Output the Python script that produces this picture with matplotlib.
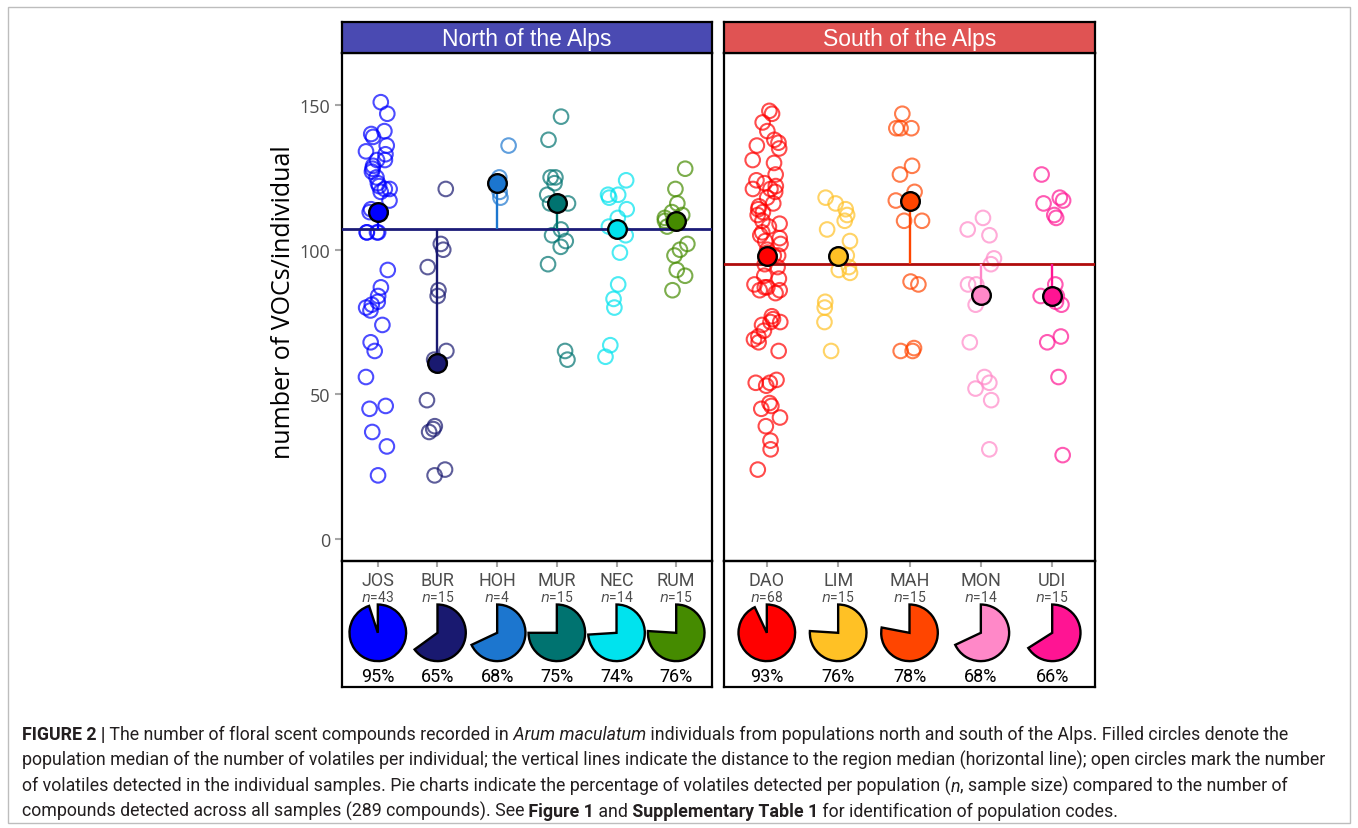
import numpy as np
import matplotlib
matplotlib.use("Agg")
import matplotlib.pyplot as plt
from matplotlib.patches import Rectangle

# populations and sample sizes
north_pops = ["JOS", "BUR", "HOH", "MUR", "NEC", "RUM"]
south_pops = ["DAO", "LIM", "MAH", "MON", "UDI"]
north_n = [43, 15, 4, 15, 14, 15]
south_n = [68, 15, 15, 14, 15]
north_pct = [95, 65, 68, 75, 74, 76]
south_pct = [93, 76, 78, 68, 66]

# population medians and region medians
north_medians = [113, 61, 123, 116, 107, 110]
south_medians = [98, 98, 117, 84.5, 84]
north_region_median = 107
south_region_median = 95

# number of VOCs per individual
jos = [151, 147, 141, 140, 139, 136, 134, 133, 131, 131, 129, 128, 127, 125, 123,
       122, 121, 121, 120, 117, 114, 113, 113, 106, 106, 106, 106, 93, 87, 84,
       82, 81, 80, 79, 74, 68, 65, 56, 46, 45, 37, 32, 22]
bur = [121, 102, 100, 94, 86, 84, 65, 62, 61, 48, 39, 38, 37, 24, 22]
hoh = [136, 125, 120, 118]
mur = [146, 138, 125, 125, 123, 119, 116, 116, 107, 105, 103, 101, 95, 65, 62]
nec = [124, 119, 119, 118, 114, 111, 108, 105, 99, 88, 83, 80, 67, 63]
rum = [128, 121, 116, 113, 112, 111, 110, 110, 108, 102, 100, 98, 93, 91, 86]
dao = [148, 147, 144, 141, 138, 137, 136, 135, 131, 130, 126, 124, 123, 122, 121,
       121, 120, 118, 116, 115, 114, 113, 112, 110, 109, 108, 106, 105, 104, 103,
       102, 100, 99, 98, 98, 97, 95, 94, 91, 90, 88, 87, 87, 86, 86, 85, 77, 76,
       75, 75, 74, 72, 70, 69, 68, 65, 55, 54, 54, 53, 47, 46, 45, 42, 39, 34,
       31, 24]
lim = [118, 116, 114, 112, 110, 107, 103, 98, 94, 93, 92, 82, 80, 75, 65]
mah = [147, 142, 142, 142, 129, 126, 120, 117, 110, 110, 89, 88, 66, 65, 65]
mon = [111, 107, 105, 97, 95, 88, 88, 81, 68, 56, 54, 52, 48, 31]
udi = [126, 118, 117, 116, 112, 111, 88, 84, 84, 82, 81, 70, 68, 56, 29]

north_vals = [jos, bur, hoh, mur, nec, rum]
south_vals = [dao, lim, mah, mon, udi]

north_colors = ["#0000FF", "#191970", "#1C76CF", "#007370", "#00E3EE", "#458B00"]
south_colors = ["#FF0000", "#FFC125", "#FF4500", "#FF88C8", "#FF1493"]

W, H = 1358, 829
fig = plt.figure(figsize=(W / 100, H / 100), dpi=100)


def px_rect(x0, y0, x1, y1):
    return [x0 / W, 1 - y1 / H, (x1 - x0) / W, (y1 - y0) / H]


narrow = ["Liberation Sans Narrow", "Roboto"]
tick_grey = "#A6A6A6"
label_grey = "#4D4D4D"
rng = np.random.default_rng(7)


def draw_region(x0, x1, pops, ns, pcts, vals, medians, region_med, colors,
                line_color, strip_color, title, show_y):
    npop = len(pops)
    ax = fig.add_axes(px_rect(x0, 54, x1, 562))
    for i, (v, c) in enumerate(zip(vals, colors)):
        xs = i + rng.uniform(-0.2, 0.2, len(v))
        ax.scatter(xs, v, s=110, facecolors="none", edgecolors=c,
                   linewidths=1.5, alpha=0.7, zorder=2)
    ax.axhline(region_med, color=line_color, lw=2, zorder=3)
    for i, (m, c) in enumerate(zip(medians, colors)):
        ax.vlines(i, region_med, m, color=c, lw=1.7, zorder=4)
        ax.scatter([i], [m], s=180, color=c, edgecolors="black",
                   linewidths=1.7, zorder=5)
    ax.set_xlim(-0.6, npop - 0.4)
    ax.set_ylim(-7.6, 168)
    ax.set_xticks(range(npop))
    ax.set_xticklabels([])
    ax.tick_params(axis="x", length=4, width=1.5, color=tick_grey)
    if show_y:
        ax.set_yticks([0, 50, 100, 150])
        ax.tick_params(axis="y", length=5, width=1.5, color=tick_grey,
                       labelcolor=label_grey, labelsize=13)
        for lab in ax.get_yticklabels():
            lab.set_family("Open Sans")
    else:
        ax.set_yticks([])
    for sp in ax.spines.values():
        sp.set_linewidth(1.6)
        sp.set_color("black")

    # strip header
    sax = fig.add_axes(px_rect(x0, 23, x1, 54))
    sax.set_facecolor(strip_color)
    sax.set_xticks([])
    sax.set_yticks([])
    for sp in sax.spines.values():
        sp.set_linewidth(1.6)
    sax.text(0.5, 0.47, title, color="white", fontsize=16.5, ha="center",
             va="center", family="Liberation Sans", transform=sax.transAxes)

    # lower box with labels and pies
    lax = fig.add_axes(px_rect(x0, 562, x1, 688))
    lax.patch.set_alpha(0)
    lax.set_xlim(-0.6, npop - 0.4)
    lax.set_ylim(0, 1)
    lax.set_xticks([])
    lax.set_yticks([])
    for sp in lax.spines.values():
        sp.set_linewidth(1.6)
    for i, (p, n, pct, c) in enumerate(zip(pops, ns, pcts, colors)):
        lax.text(i, 0.85, p, ha="center", va="center", fontsize=13,
                 color=label_grey, family=narrow)
        lax.text(i, 0.715, f"$n$={n}", ha="center", va="center", fontsize=10,
                 color=label_grey, family=narrow)
        lax.text(i, 0.09, f"{pct}%", ha="center", va="center", fontsize=13,
                 color="black", family=narrow)
        disp = lax.transData.transform((i, 0.43))
        fx, fy = fig.transFigure.inverted().transform(disp)
        pw, ph = 60 / W, 60 / H
        pax = fig.add_axes([fx - pw / 2, fy - ph / 2, pw, ph])
        wedges, _ = pax.pie([pct, 100 - pct], colors=[c, "white"], startangle=90,
                            counterclock=False,
                            wedgeprops=dict(edgecolor="black", linewidth=1.7))
        wedges[1].set_visible(False)
        pax.set_xlim(-1.06, 1.06)
        pax.set_ylim(-1.06, 1.06)
        pax.set_aspect("equal")
    return ax


draw_region(342, 712, north_pops, north_n, north_pct, north_vals, north_medians,
            north_region_median, north_colors, "#1B1B78", "#4A4AB2",
            "North of the Alps", True)
draw_region(724, 1095, south_pops, south_n, south_pct, south_vals, south_medians,
            south_region_median, south_colors, "#B00C0C", "#E05353",
            "South of the Alps", False)

fig.text(283 / W, 1 - 302 / H, "number of VOCs/individual", rotation=90,
         ha="center", va="center", fontsize=18, family="Open Sans")

# outer frame
fig.patches.append(Rectangle((8 / W, 1 - 824 / H), 1342 / W, 816 / H,
                             transform=fig.transFigure, fill=False,
                             edgecolor="#BDBDBD", lw=1))

# caption
cap_color = "#231F20"
caption = [
    [("FIGURE 2 |", "bold", "normal"),
     (" The number of floral scent compounds recorded in", "normal", "normal"),
     (" Arum maculatum", "normal", "italic"),
     (" individuals from populations north and south of the Alps. Filled circles denote the",
      "normal", "normal")],
    [("population median of the number of volatiles per individual; the vertical lines "
      "indicate the distance to the region median (horizontal line); open circles mark the number",
      "normal", "normal")],
    [("of volatiles detected in the individual samples. Pie charts indicate the percentage "
      "of volatiles detected per population (", "normal", "normal"),
     ("n", "normal", "italic"),
     (", sample size) compared to the number of", "normal", "normal")],
    [("compounds detected across all samples (289 compounds). See", "normal", "normal"),
     (" Figure 1", "bold", "normal"),
     (" and", "normal", "normal"),
     (" Supplementary Table 1", "bold", "normal"),
     (" for identification of population codes.", "normal", "normal")],
]
baselines = [740, 766, 792, 817]
renderer = fig.canvas.get_renderer()


def draw_line(x_px, y_px, pieces, size):
    x = x_px
    arts = []
    for txt, wt, st in pieces:
        t = fig.text(x / W, 1 - y_px / H, txt, fontsize=size, fontweight=wt,
                     fontstyle=st, family=narrow, color=cap_color,
                     ha="left", va="baseline")
        x += t.get_window_extent(renderer=renderer).width
        arts.append(t)
    return x - x_px, arts


widest = 0
for pieces in caption:
    w, arts = draw_line(22, baselines[0], pieces, 12)
    widest = max(widest, w)
    for a in arts:
        a.remove()
cap_size = 12 * 1300 / widest
for pieces, yb in zip(caption, baselines):
    draw_line(22, yb, pieces, cap_size)

fig.savefig("out.png", dpi=100)
